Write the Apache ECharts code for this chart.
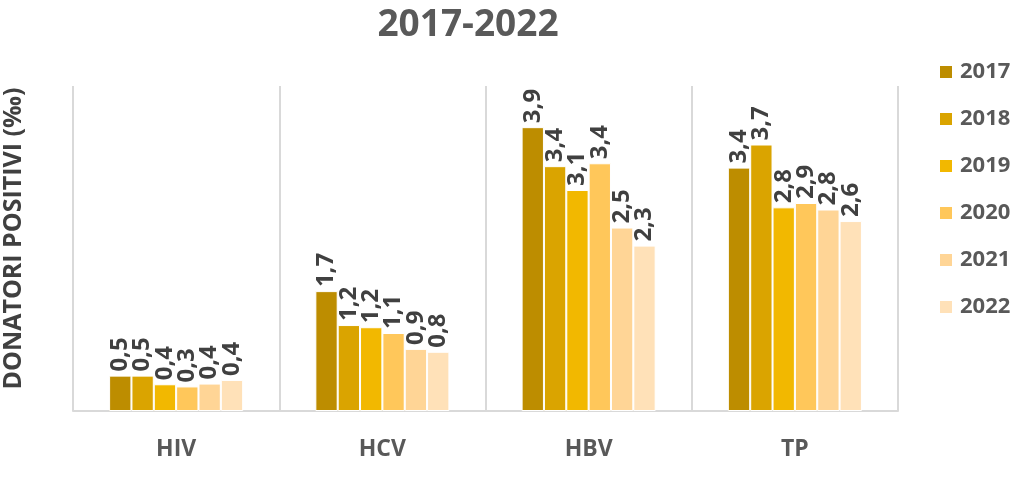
<!DOCTYPE html>
<html>
<head>
<meta charset="utf-8">
<script src="https://cdn.jsdelivr.net/npm/echarts@6/dist/echarts.min.js"></script>
<style>
  html, body { margin: 0; padding: 0; background: #fff; }
  #chart { width: 1024px; height: 479px; }
</style>
</head>
<body>
<div id="chart"></div>
<script>
// categorie e anni
const categories = ['HIV', 'HCV', 'HBV', 'TP']
const years = ['2017', '2018', '2019', '2020', '2021', '2022']

// donatori positivi (‰) per anno, nell'ordine delle categorie
const v2017 = [0.49, 1.66, 3.93, 3.37]
const v2018 = [0.49, 1.19, 3.39, 3.69]
const v2019 = [0.37, 1.16, 3.06, 2.82]
const v2020 = [0.34, 1.08, 3.43, 2.88]
const v2021 = [0.38, 0.86, 2.54, 2.79]
const v2022 = [0.43, 0.82, 2.29, 2.63]
const values = [v2017, v2018, v2019, v2020, v2021, v2022]

const colors = ['#BD8D00', '#DAA400', '#F2B800', '#FFC75A', '#FFD596', '#FFE1B8']
const FONT = '"Open Sans", "Noto Sans", sans-serif'

const chart = echarts.init(document.getElementById('chart'))

const series = years.map((y, i) => ({
  name: y,
  type: 'bar',
  data: values[i],
  barGap: '0%',
  barCategoryGap: '35%',
  itemStyle: { color: colors[i], borderColor: '#fff', borderWidth: 1 },
  label: {
    show: true,
    position: 'top',
    rotate: 90,
    align: 'left',
    verticalAlign: 'middle',
    distance: 4,
    color: '#404040',
    fontFamily: FONT,
    fontWeight: 'bold',
    fontSize: 24,
    formatter: p => p.value.toFixed(1).replace('.', ',')
  }
}))

chart.setOption({
  animation: false,
  title: {
    text: '2017-2022',
    left: 463,
    textAlign: 'center',
    top: 2,
    textStyle: { color: '#595959', fontFamily: FONT, fontWeight: 'bold', fontSize: 37 }
  },
  legend: {
    orient: 'vertical',
    left: 933,
    top: 56,
    itemWidth: 14,
    itemHeight: 14,
    itemGap: 25,
    icon: 'rect',
    textStyle: { color: '#595959', fontFamily: FONT, fontWeight: 'bold', fontSize: 22, padding: [0, 0, 0, 2] }
  },
  grid: { left: 73, right: 126, top: 86, bottom: 68, outerBoundsMode: 'none', containLabel: false },
  xAxis: {
    type: 'category',
    data: categories,
    axisLine: { lineStyle: { color: '#D9D9D9', width: 2 } },
    axisTick: { show: false },
    splitLine: { show: true, lineStyle: { color: '#D9D9D9', width: 2 } },
    axisLabel: {
      margin: 27,
      color: '#595959',
      fontFamily: FONT,
      fontWeight: 'bold',
      fontSize: 23
    }
  },
  yAxis: {
    type: 'value',
    min: 0,
    max: 4.5,
    axisLine: { show: false },
    axisTick: { show: false },
    axisLabel: { show: false },
    splitLine: { show: false },
    name: 'DONATORI POSITIVI (‰)',
    nameLocation: 'middle',
    nameGap: 47,
    nameTextStyle: { color: '#404040', fontFamily: FONT, fontWeight: 'bold', fontSize: 25, padding: [0, 0, 0, 20] }
  },
  series
})
</script>
</body>
</html>
